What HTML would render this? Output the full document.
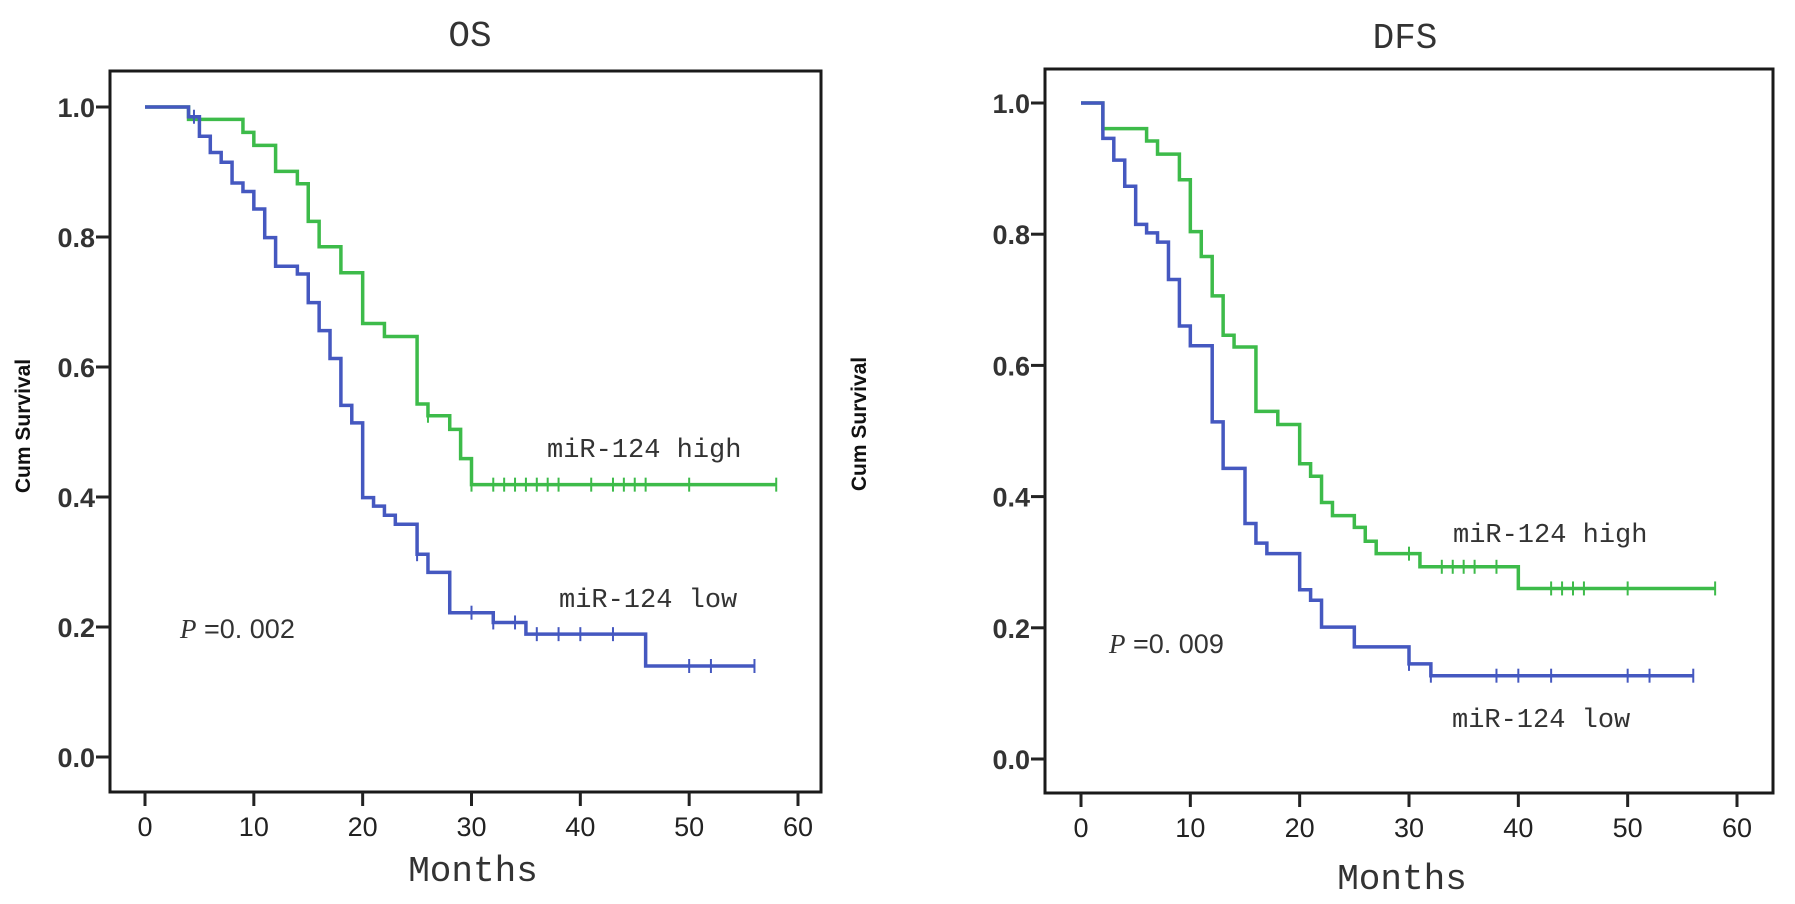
<!DOCTYPE html>
<html><head><meta charset="utf-8"><style>
html,body{margin:0;padding:0;background:#fff;}
svg{display:block;}
.tk{font-family:"Liberation Sans",Arial,sans-serif;font-size:27px;fill:#222;}
.tky{font-weight:bold;fill:#333;}
.mono{font-family:"Liberation Mono","DejaVu Sans Mono",monospace;fill:#333;}
</style></head><body>
<svg id="chart" width="1795" height="904" viewBox="0 0 1795 904" xmlns="http://www.w3.org/2000/svg"></svg>
<script>
// OS panel data
const osHighTimes = [0,4,9,10,12,14,15,16,18,20,22,25,26,28,29,30,58];
const osHighSurv  = [1,0.981,0.961,0.941,0.901,0.882,0.824,0.785,0.745,0.667,0.647,0.543,0.525,0.504,0.459,0.419,0.419];
const osHighCensor = [26,30,32,33,34,35,36,37,38,41,43,44,45,46,50,58];
const osLowTimes = [0,4,5,6,7,8,9,10,11,12,14,15,16,17,18,19,20,21,22,23,25,26,28,32,35,46,56];
const osLowSurv  = [1,0.985,0.955,0.93,0.915,0.883,0.870,0.843,0.799,0.755,0.743,0.699,0.656,0.613,0.541,0.514,0.399,0.386,0.372,0.358,0.312,0.284,0.222,0.207,0.189,0.140,0.140];
const osLowCensor = [4.5,25,30,32,34,36,38,40,43,50,52,56];
// DFS panel data
const dfsHighTimes = [0,2,6,7,9,10,11,12,13,14,16,18,20,21,22,23,25,26,27,31,40,58];
const dfsHighSurv  = [1,0.961,0.942,0.922,0.883,0.804,0.766,0.706,0.646,0.628,0.530,0.510,0.450,0.431,0.391,0.371,0.353,0.332,0.313,0.293,0.260,0.260];
const dfsHighCensor = [30,33,34,35,36,38,43,44,45,46,50,58];
const dfsLowTimes = [0,2,3,4,5,6,7,8,9,10,12,13,15,16,17,20,21,22,25,30,32,56];
const dfsLowSurv  = [1,0.946,0.913,0.873,0.815,0.802,0.788,0.731,0.660,0.630,0.514,0.443,0.359,0.329,0.313,0.258,0.242,0.201,0.171,0.145,0.127,0.127];
const dfsLowCensor = [30,32,38,40,43,50,52,56];
const xTicks = [0,10,20,30,40,50,60];
const yTicks = [0,0.2,0.4,0.6,0.8,1.0];
const yTickLabels = ["0.0","0.2","0.4","0.6","0.8","1.0"];

const NS="http://www.w3.org/2000/svg";
const svg=document.getElementById('chart');
const GREEN="#3dbb4a", BLUE="#4558c0";
function mk(tag,attrs,parent){const e=document.createElementNS(NS,tag);for(const k in attrs)e.setAttribute(k,attrs[k]);(parent||svg).appendChild(e);return e;}

function panel(cfg){
  const g=mk('g',{});
  
  
  const X=t=>cfg.x0+t*(cfg.x60-cfg.x0)/60;
  const Y=v=>cfg.y0+v*(cfg.y1-cfg.y0);
  const fr=mk('rect',{x:cfg.fl,y:cfg.ft,width:cfg.fr-cfg.fl,height:cfg.fb-cfg.ft,fill:'none',stroke:'#1a1a1a','stroke-width':3},g);
  
  
  xTicks.forEach(t=>{
    const l=mk('line',{x1:X(t),x2:X(t),y1:cfg.fb,y2:cfg.fb+14,stroke:'#222','stroke-width':3},g);
    
    
    const tx=mk('text',{x:X(t),y:cfg.fb+44,'text-anchor':'middle',class:'tk'},g);
    tx.textContent=t;
    
    
  });
  yTicks.forEach((v,i)=>{
    const l=mk('line',{x1:cfg.fl-14,x2:cfg.fl,y1:Y(v),y2:Y(v),stroke:'#222','stroke-width':3},g);
    
    
    const tx=mk('text',{x:cfg.fl-15,y:Y(v)+10,'text-anchor':'end',class:'tk tky'},g);
    tx.textContent=yTickLabels[i];
    
    
  });
  function stepY(times,surv,t){let v=surv[0];for(let i=0;i<times.length;i++){if(times[i]<=t)v=surv[i];}return v;}
  cfg.series.forEach(s=>{
    let d='M'+X(s.times[0])+','+Y(s.surv[0]);
    for(let i=1;i<s.times.length;i++){
      d+=' H'+X(s.times[i])+' V'+Y(s.surv[i]);
    }
    const p=mk('path',{d:d,fill:'none',stroke:s.color,'stroke-width':3.5},g);
    
    
    s.censor.forEach(t=>{
      const yy=Y(stepY(s.times,s.surv,t));
      const c=mk('line',{x1:X(t),x2:X(t),y1:yy-7,y2:yy+7,stroke:s.color,'stroke-width':2},g);
      
      
    });
  });
}

panel({name:'os-panel',fl:110,fr:821,ft:71,fb:792,x0:145,x60:798,y0:757,y1:107,
  series:[{name:'os-high',times:osHighTimes,surv:osHighSurv,censor:osHighCensor,color:GREEN},
          {name:'os-low',times:osLowTimes,surv:osLowSurv,censor:osLowCensor,color:BLUE}]});
panel({name:'dfs-panel',fl:1045,fr:1773,ft:69,fb:793,x0:1081,x60:1737,y0:759,y1:103,
  series:[{name:'dfs-high',times:dfsHighTimes,surv:dfsHighSurv,censor:dfsHighCensor,color:GREEN},
          {name:'dfs-low',times:dfsLowTimes,surv:dfsLowSurv,censor:dfsLowCensor,color:BLUE}]});
</script>
<svg style="position:absolute;left:0;top:0" width="1795" height="904">
  <text x="470" y="46" text-anchor="middle" class="mono" font-size="36">OS</text>
  <text x="1405" y="48" text-anchor="middle" class="mono" font-size="36">DFS</text>
  <text x="473" y="881" text-anchor="middle" class="mono" font-size="36">Months</text>
  <text x="1402" y="889" text-anchor="middle" class="mono" font-size="36">Months</text>
  <text transform="translate(30,426) rotate(-90)" text-anchor="middle" font-family="Liberation Sans, Arial, sans-serif" font-weight="bold" font-size="21" fill="#111">Cum Survival</text>
  <text transform="translate(866,424) rotate(-90)" text-anchor="middle" font-family="Liberation Sans, Arial, sans-serif" font-weight="bold" font-size="21" fill="#111">Cum Survival</text>
  <text x="547" y="457" class="mono" font-size="27">miR-124 high</text>
  <text x="559" y="607" class="mono" font-size="27">miR-124 low</text>
  <text x="180" y="638" font-family="Liberation Sans, Arial, sans-serif" font-size="27" fill="#333"><tspan font-family="Liberation Serif, serif" font-style="italic">P</tspan> =0. 002</text>
  <text x="1453" y="542" class="mono" font-size="27">miR-124 high</text>
  <text x="1452" y="727" class="mono" font-size="27">miR-124 low</text>
  <text x="1109" y="653" font-family="Liberation Sans, Arial, sans-serif" font-size="27" fill="#333"><tspan font-family="Liberation Serif, serif" font-style="italic">P</tspan> =0. 009</text>
</svg>
</body></html>
